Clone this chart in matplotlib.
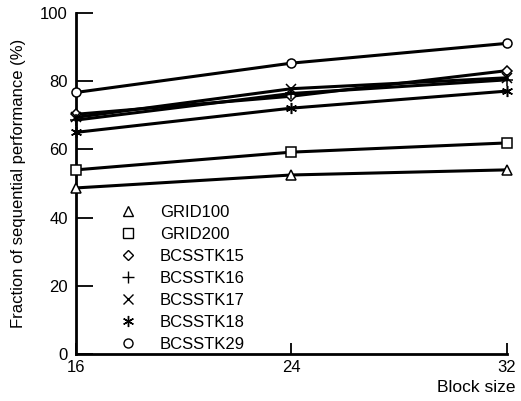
import matplotlib
matplotlib.use("Agg")
import matplotlib.pyplot as plt
from matplotlib.lines import Line2D

plt.rcParams['font.family'] = ['Liberation Sans', 'DejaVu Sans']

block_sizes = [16, 24, 32]
series_names = ["GRID100", "GRID200", "BCSSTK15", "BCSSTK16",
                "BCSSTK17", "BCSSTK18", "BCSSTK29"]
grid100 = [48.7, 52.5, 54.0]
grid200 = [54.0, 59.2, 61.9]
bcsstk15 = [70.3, 75.6, 83.1]
bcsstk16 = [68.6, 76.4, 80.4]
bcsstk17 = [69.4, 77.8, 81.0]
bcsstk18 = [65.0, 72.1, 77.1]
bcsstk29 = [76.7, 85.3, 91.1]
series_values = [grid100, grid200, bcsstk15, bcsstk16, bcsstk17, bcsstk18, bcsstk29]
series_markers = ["^", "s", "D", "+", "x", (6, 2, 0), "o"]
marker_sizes = [6.5, 6.5, 5, 8, 7, 8, 6.5]

y_ticks = [0, 20, 40, 60, 80, 100]
x_ticks = [16, 24, 32]

fig = plt.figure(figsize=(5.21, 4.01), dpi=100)
ax = fig.add_axes([76 / 521, 1 - 354 / 401, (507 - 76) / 521, (354 - 13) / 401])

for vals, mk, ms in zip(series_values, series_markers, marker_sizes):
    ax.plot(block_sizes, vals, color='black', lw=2.2, marker=mk, ms=ms,
            mfc='white', mec='black', mew=1.1, clip_on=False, zorder=3)

ax.set_xlim(16, 32)
ax.set_ylim(0, 100)
ax.set_xticks(x_ticks)
ax.set_yticks(y_ticks)
ax.tick_params(axis='y', direction='in', length=12, width=1.3, labelsize=12, pad=6)
ax.tick_params(axis='x', direction='in', length=8, width=1.3, labelsize=12, pad=4)
for s in ('top', 'right'):
    ax.spines[s].set_visible(False)
for s in ('left', 'bottom'):
    ax.spines[s].set_linewidth(2.0)

ax.set_ylabel("Fraction of sequential performance (%)", fontsize=12, labelpad=10)
ax.set_xlabel("Block size", fontsize=12.5, labelpad=4)
ax.xaxis.set_label_coords(1.02, -0.075)
ax.xaxis.label.set_horizontalalignment('right')

handles = [Line2D([], [], ls='none', marker=mk, color='black', mfc='white',
                  mec='black', mew=1.0, ms=ms)
           for mk, ms in zip(series_markers, marker_sizes)]
leg = ax.legend(handles, series_names, loc='upper left', frameon=False,
                bbox_to_anchor=(120 / 521, 1 - 205 / 401),
                bbox_transform=fig.transFigure, fontsize=12,
                handlelength=1.0, handletextpad=1.4, labelspacing=0.42,
                borderaxespad=0, borderpad=0)

fig.savefig("out.png", dpi=100)
